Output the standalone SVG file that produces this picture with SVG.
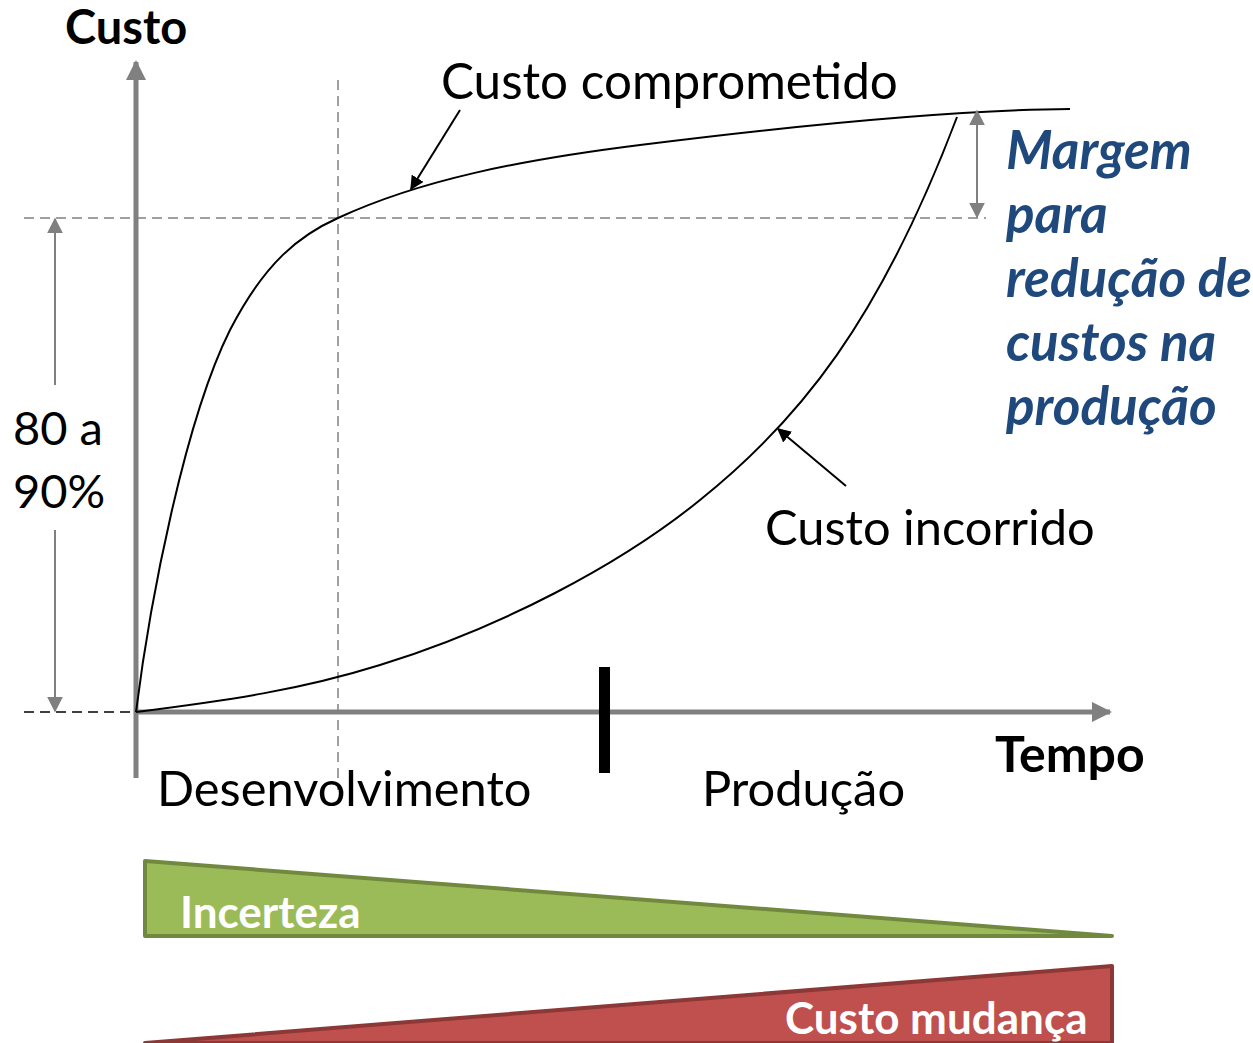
<svg xmlns="http://www.w3.org/2000/svg" width="1253" height="1043" viewBox="0 0 1253 1043">
<style>
.t{font-family:Lato,"Open Sans",sans-serif;fill:#000}
.b{font-weight:bold}
.m{font-family:Lato,"Open Sans",sans-serif;font-weight:bold;font-style:italic;fill:#1F497D;font-size:53px}
.w{font-family:Lato,"Open Sans",sans-serif;font-weight:bold;fill:#fff;font-size:44px}
.dash{stroke:#808080;stroke-width:1.5;stroke-dasharray:10 6;fill:none}
.curve{stroke:#000;stroke-width:2;fill:none}
</style>
<defs>
<marker id="ga" viewBox="0 0 10 10" refX="9" refY="5" markerWidth="4" markerHeight="4" orient="auto" markerUnits="strokeWidth"><path d="M0,0L10,5L0,10z" fill="#808080"/></marker>
<marker id="gs" viewBox="0 0 10 10" refX="9" refY="5" markerWidth="8" markerHeight="8" orient="auto" markerUnits="strokeWidth"><path d="M0,0L10,5L0,10z" fill="#808080"/></marker>
<marker id="ba" viewBox="0 0 10 10" refX="9" refY="5" markerWidth="7" markerHeight="7" orient="auto" markerUnits="strokeWidth"><path d="M0,0L10,5L0,10z" fill="#000"/></marker>
</defs>
<g id="guides">
<line class="dash" x1="24" y1="218" x2="986" y2="218"/>
<line class="dash" x1="338" y1="80" x2="338" y2="790"/>
<line x1="24" y1="712" x2="136" y2="712" stroke="#000" stroke-width="1.5" stroke-dasharray="10 6"/>
</g>
<g id="axes">
<line x1="136" y1="778" x2="136" y2="62" stroke="#808080" stroke-width="5" marker-end="url(#ga)"/>
<line x1="136" y1="712" x2="1110" y2="712" stroke="#808080" stroke-width="5" marker-end="url(#ga)"/>
<rect x="599" y="667" width="11" height="106" fill="#000"/>
</g>
<g id="curves">
<path class="curve" d="M136,712 C150,600 185,420 230,330 C265,262 300,235 338,218 C420,180 520,160 640,145 C800,125 950,110 1070,109"/>
<path class="curve" d="M136,712 C230,700 300,690 380,665 C500,628 620,565 700,500 C800,420 880,320 957,117"/>
</g>
<g id="connectors">
<line x1="460" y1="110" x2="411" y2="189" stroke="#000" stroke-width="2" marker-end="url(#ba)"/>
<line x1="846" y1="486" x2="778" y2="429" stroke="#000" stroke-width="2" marker-end="url(#ba)"/>
<line x1="55" y1="385" x2="55" y2="219" stroke="#808080" stroke-width="2" marker-end="url(#gs)"/>
<line x1="55" y1="530" x2="55" y2="711" stroke="#808080" stroke-width="2" marker-end="url(#gs)"/>
<line x1="977" y1="160" x2="977" y2="111" stroke="#808080" stroke-width="2" marker-end="url(#gs)"/>
<line x1="977" y1="160" x2="977" y2="217" stroke="#808080" stroke-width="2" marker-end="url(#gs)"/>
</g>
<g id="labels">
<text class="t b" x="65" y="44" font-size="47">Custo</text>
<text class="t" x="441" y="99" font-size="49.4">Custo comprometido</text>
<text class="t" x="13" y="445" font-size="47">80 a</text>
<text class="t" x="13" y="508" font-size="47">90%</text>
<text class="t" x="765" y="545" font-size="48.8">Custo incorrido</text>
<text class="t" x="157" y="806" font-size="48.8">Desenvolvimento</text>
<text class="t" x="702" y="806" font-size="48.8">Produção</text>
<text class="t b" x="995" y="772" font-size="50">Tempo</text>
</g>
<g id="margem">
<text class="m" x="1006" y="169">Margem</text>
<text class="m" x="1006" y="233">para</text>
<text class="m" x="1006" y="297">redução de</text>
<text class="m" x="1006" y="361">custos na</text>
<text class="m" x="1006" y="425">produção</text>
</g>
<g id="incerteza">
<polygon points="145,861 145,936 1112,936" fill="#9BBB59" stroke="#71893F" stroke-width="4" stroke-linejoin="round"/>
<text class="w" x="180" y="928">Incerteza</text>
</g>
<g id="custo-mudanca">
<polygon points="145,1043 1112,966 1112,1043" fill="#C0504D" stroke="#8C3836" stroke-width="4" stroke-linejoin="round"/>
<text class="w" x="785" y="1034">Custo mudança</text>
</g>
</svg>
